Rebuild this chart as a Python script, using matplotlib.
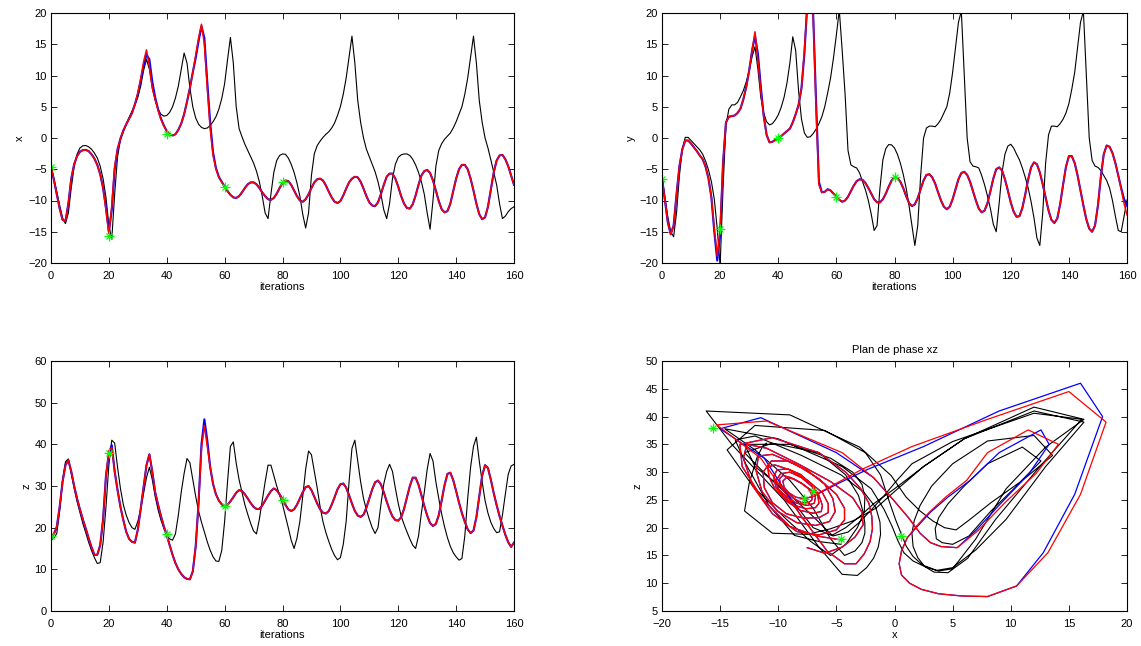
import numpy as np
import matplotlib
matplotlib.use("Agg")
import matplotlib.pyplot as plt

# --- data (one value per iteration, 0..160) ---
x_true = [-4.6, -6.5, -8.6, -10.8, -12.8, -13.7, -12.0, -8.0, -4.6, -2.6,
          -1.6, -1.25, -1.2, -1.4, -1.8, -2.4, -3.2, -4.5, -6.5, -9.5,
          -14.0, -16.2, -9.0, -3.0, -0.3, 1.0, 2.2, 3.3, 4.3, 5.3,
          6.5, 8.3, 10.8, 12.6, 11.0, 8.0, 6.0, 4.6, 3.8, 3.5,
          3.6, 4.1, 5.0, 6.4, 8.3, 11.0, 13.6, 12.0, 8.0, 5.0,
          3.2, 2.2, 1.7, 1.5, 1.6, 2.0, 2.6, 3.4, 4.6, 6.3,
          8.7, 12.5, 16.1, 12.0, 5.0, 1.5, 0.2, -1.0, -2.0, -3.0,
          -4.0, -5.3, -7.0, -9.3, -12.0, -12.9, -9.0, -5.5, -3.6, -2.8,
          -2.55, -2.6, -3.2, -4.2, -5.5, -7.2, -9.3, -12.2, -14.4, -12.0,
          -6.0, -2.5, -1.2, -0.5, 0.1, 0.6, 1.0, 1.6, 2.4, 3.6,
          5.0, 7.0, 9.6, 13.0, 16.3, 12.0, 6.0, 2.5, 0.0, -1.8,
          -3.0, -4.2, -5.4, -7.0, -9.0, -11.5, -12.9, -10.5, -6.5, -4.2,
          -3.1, -2.7, -2.55, -2.55, -2.8, -3.4, -4.3, -5.5, -7.0, -9.0,
          -12.0, -14.6, -10.0, -4.5, -2.0, -0.9, -0.2, 0.3, 0.8, 1.6,
          2.6, 3.8, 5.0, 7.0, 9.6, 13.0, 16.3, 12.0, 6.0, 2.5,
          0.0, -1.6, -3.5, -5.5, -7.5, -10.5, -12.9, -12.5, -11.8, -11.3,
          -11.0]

x_red = [-4.6, -6.7, -9.0, -11.3, -13.1, -13.3, -10.5, -6.5, -4.2, -2.9,
         -2.2, -1.95, -1.9, -2.1, -2.6, -3.3, -4.3, -5.8, -8.0, -11.5,
         -15.3, -11.0, -4.5, -1.8, -0.1, 1.2, 2.2, 3.1, 4.0, 5.4,
         7.2, 9.5, 12.2, 14.1, 11.5, 8.0, 6.2, 4.4, 3.0, 1.9,
         1.1, 0.6, 0.4, 0.6, 1.3, 2.3, 3.8, 5.8, 8.0, 10.5,
         13.2, 16.0, 18.2, 15.0, 8.0, 1.5, -2.8, -5.0, -6.3, -7.1,
         -7.8, -8.5, -9.1, -9.5, -9.6, -9.3, -8.7, -8.0, -7.4, -7.1,
         -7.1, -7.4, -8.0, -8.7, -9.3, -9.8, -9.9, -9.6, -8.9, -8.0,
         -7.2, -6.8, -6.9, -7.5, -8.4, -9.3, -10.0, -10.2, -9.8, -9.0,
         -8.0, -7.1, -6.6, -6.5, -6.8, -7.6, -8.6, -9.5, -10.2, -10.4,
         -10.1, -9.2, -8.1, -7.1, -6.5, -6.2, -6.3, -7.0, -8.1, -9.3,
         -10.3, -10.8, -10.9, -10.3, -9.0, -7.5, -6.2, -5.7, -5.7, -6.5,
         -7.8, -9.3, -10.5, -11.2, -11.3, -10.6, -9.2, -7.5, -6.0, -5.3,
         -5.1, -5.6, -6.8, -8.4, -10.1, -11.4, -11.9, -11.7, -10.5, -8.5,
         -6.5, -5.0, -4.3, -4.3, -5.0, -6.5, -8.4, -10.5, -12.2, -13.0,
         -12.7, -11.0, -8.3, -5.5, -3.6, -2.8, -2.7, -3.4, -4.5, -6.0,
         -7.5]

x_blue = [-4.6, -6.7, -9.0, -11.3, -13.1, -13.3, -10.5, -6.5, -4.2, -2.9,
          -2.2, -1.95, -1.9, -2.1, -2.6, -3.3, -4.3, -5.8, -8.0, -11.2,
          -15.0, -11.5, -5.0, -1.8, -0.1, 1.2, 2.2, 3.1, 4.0, 5.4,
          7.0, 9.2, 11.6, 13.3, 12.6, 9.0, 6.5, 4.6, 3.1, 2.0,
          1.1, 0.6, 0.4, 0.6, 1.3, 2.3, 3.8, 5.8, 8.0, 10.5,
          12.8, 15.5, 17.9, 16.0, 9.0, 2.5, -2.3, -4.8, -6.2, -7.0,
          -7.8, -8.5, -9.1, -9.5, -9.6, -9.3, -8.7, -8.0, -7.4, -7.1,
          -7.1, -7.4, -8.0, -8.7, -9.3, -9.8, -9.9, -9.6, -8.9, -8.0,
          -7.2, -6.8, -6.9, -7.5, -8.4, -9.3, -10.0, -10.2, -9.8, -9.0,
          -8.0, -7.1, -6.6, -6.5, -6.8, -7.6, -8.6, -9.5, -10.2, -10.4,
          -10.1, -9.2, -8.1, -7.1, -6.5, -6.2, -6.3, -7.0, -8.1, -9.3,
          -10.3, -10.8, -10.9, -10.3, -9.0, -7.5, -6.2, -5.7, -5.7, -6.5,
          -7.8, -9.3, -10.5, -11.2, -11.3, -10.6, -9.2, -7.5, -6.0, -5.3,
          -5.1, -5.6, -6.8, -8.4, -10.1, -11.4, -11.9, -11.7, -10.5, -8.5,
          -6.5, -5.0, -4.3, -4.3, -5.0, -6.5, -8.4, -10.5, -12.2, -13.0,
          -12.7, -11.0, -8.3, -5.5, -3.6, -2.8, -2.7, -3.4, -4.5, -6.0,
          -7.5]

y_true = [-6.2, -9.5, -12.6, -15.0, -15.8, -12.0, -6.0, -1.8, 0.1, 0.1,
          -0.4, -0.9, -1.4, -1.9, -2.6, -3.7, -5.1, -7.0, -9.8, -14.5,
          -20.5, -8.0, 2.0, 4.6, 5.3, 5.3, 5.7, 6.6, 7.6, 9.0,
          10.8, 13.0, 14.6, 11.0, 6.5, 4.0, 2.6, 2.1, 2.3, 2.9,
          3.7, 4.9, 6.5, 8.8, 12.0, 16.2, 14.0, 7.5, 3.0, 0.8,
          0.1, 0.2, 0.7, 1.4, 2.3, 3.4, 5.0, 7.2, 9.6, 12.8,
          16.5, 20.5, 14.0, 7.0, -2.0, -4.3, -4.6, -4.8, -5.6, -7.0,
          -8.3, -10.0, -12.2, -14.8, -14.0, -8.0, -3.5, -1.7, -1.05, -1.1,
          -1.6, -2.6, -4.0, -5.8, -8.0, -10.8, -14.0, -17.2, -14.0, -6.0,
          0.0, 1.6, 1.9, 1.9, 1.8, 2.3, 3.0, 4.0, 5.0, 7.2,
          10.5, 14.5, 18.5, 20.3, 10.0, 0.0, -3.8, -4.5, -4.6, -4.8,
          -6.0, -7.5, -9.3, -11.3, -13.8, -15.0, -10.5, -5.5, -2.6, -1.3,
          -1.0, -1.6, -2.6, -3.5, -4.8, -6.3, -8.0, -10.2, -12.8, -16.0,
          -17.2, -12.0, -4.0, 0.5, 1.9, 1.9, 1.8, 2.3, 3.0, 4.0,
          5.5, 7.8, 10.5, 14.5, 18.5, 20.3, 10.0, 0.0, -3.6, -4.5,
          -4.7, -5.2, -6.0, -6.8, -8.0, -10.0, -12.5, -14.8, -15.0, -12.5,
          -9.9]

y_red = [-6.4, -10.0, -13.5, -15.4, -14.0, -9.0, -4.5, -1.8, -0.4, -0.4,
         -0.9, -1.5, -2.1, -2.8, -3.4, -4.6, -6.5, -9.5, -14.5, -18.9,
         -14.6, -4.0, 2.5, 3.4, 3.5, 3.6, 4.0, 4.7, 6.2, 8.2,
         10.8, 14.0, 17.0, 12.5, 7.5, 3.5, 0.5, -0.7, -0.6, -0.3,
         0.0, 0.3, 0.7, 1.1, 1.5, 2.5, 3.8, 5.3, 8.0, 14.0,
         21.5, 23.0, 20.0, 5.0, -7.5, -8.7, -8.6, -8.2, -8.4, -8.9,
         -9.4, -9.9, -10.2, -10.0, -9.4, -8.5, -7.6, -6.9, -6.6, -6.7,
         -7.2, -8.0, -8.9, -9.8, -10.3, -10.3, -9.8, -8.9, -7.8, -6.8,
         -6.3, -6.4, -7.0, -8.0, -9.3, -10.4, -10.9, -10.6, -9.6, -8.2,
         -6.8, -5.9, -5.8, -6.3, -7.3, -8.7, -10.0, -11.0, -11.4, -11.0,
         -9.8, -8.2, -6.6, -5.6, -5.4, -5.9, -7.0, -8.5, -10.0, -11.3,
         -11.9, -11.6, -10.4, -8.5, -6.5, -5.0, -4.7, -5.2, -6.6, -8.4,
         -10.3, -11.8, -12.6, -12.5, -11.2, -9.0, -6.6, -4.7, -3.9, -4.2,
         -5.5, -7.4, -9.5, -11.6, -13.1, -13.6, -12.9, -10.6, -7.5, -4.6,
         -2.9, -2.9, -4.0, -6.0, -8.4, -10.8, -13.0, -14.5, -15.0, -14.0,
         -10.8, -6.2, -2.6, -1.2, -1.4, -2.4, -4.0, -6.0, -8.2, -10.5,
         -12.3]

y_blue = [-6.4, -10.0, -13.5, -15.4, -14.0, -9.0, -4.5, -1.8, -0.4, -0.4,
          -0.9, -1.5, -2.1, -2.8, -3.4, -4.6, -6.5, -9.5, -15.0, -19.6,
          -15.5, -4.0, 2.5, 3.4, 3.5, 3.6, 4.0, 4.7, 6.2, 8.2,
          10.8, 14.0, 16.3, 13.5, 8.2, 3.5, 0.5, -0.7, -0.6, -0.3,
          0.0, 0.3, 0.7, 1.1, 1.5, 2.5, 3.8, 5.3, 8.0, 13.5,
          21.5, 23.0, 20.0, 6.0, -7.0, -8.7, -8.6, -8.2, -8.4, -8.9,
          -9.4, -9.9, -10.2, -10.0, -9.4, -8.5, -7.6, -6.9, -6.6, -6.7,
          -7.2, -8.0, -8.9, -9.8, -10.3, -10.3, -9.8, -8.9, -7.8, -6.8,
          -6.3, -6.4, -7.0, -8.0, -9.3, -10.4, -10.9, -10.6, -9.6, -8.2,
          -6.8, -5.9, -5.8, -6.3, -7.3, -8.7, -10.0, -11.0, -11.4, -11.0,
          -9.8, -8.2, -6.6, -5.6, -5.4, -5.9, -7.0, -8.5, -10.0, -11.3,
          -11.9, -11.6, -10.4, -8.5, -6.5, -5.0, -4.7, -5.2, -6.6, -8.4,
          -10.3, -11.8, -12.6, -12.5, -11.2, -9.0, -6.6, -4.7, -3.9, -4.2,
          -5.5, -7.4, -9.5, -11.6, -13.1, -13.6, -12.9, -10.6, -7.5, -4.6,
          -2.9, -2.9, -4.0, -6.0, -8.4, -10.8, -13.0, -14.5, -15.0, -14.0,
          -10.8, -6.2, -2.6, -1.2, -1.4, -2.4, -4.0, -6.0, -8.0, -9.8,
          -10.8]

z_true = [17.0, 17.5, 18.6, 24.0, 31.5, 35.8, 36.5, 33.0, 29.5, 26.3,
          23.6, 21.0, 18.8, 16.5, 14.5, 12.8, 11.4, 11.6, 16.5, 25.0,
          35.0, 41.0, 40.3, 34.5, 29.4, 25.5, 23.0, 21.2, 20.0, 19.6,
          21.5, 24.5, 28.2, 32.0, 34.5, 31.5, 27.5, 24.3, 21.8, 19.8,
          18.0, 17.3, 17.0, 18.5, 23.0, 28.5, 33.0, 36.6, 35.6, 31.5,
          27.5, 24.0, 21.3, 19.0, 16.6, 14.6, 13.0, 12.0, 11.9, 14.5,
          21.5, 31.0, 39.5, 40.6, 35.5, 31.5, 28.5, 25.5, 23.2, 21.0,
          19.2, 18.5, 22.0, 26.5, 31.0, 35.0, 35.0, 32.5, 30.0, 27.8,
          25.6, 22.8, 20.0, 17.0, 15.0, 17.5, 21.5, 27.5, 34.0, 38.4,
          37.5, 33.5, 29.5, 25.0, 21.4, 18.8, 16.7, 14.8, 13.3, 12.3,
          12.8, 16.0, 21.5, 31.0, 39.0, 41.0, 36.0, 31.0, 27.0, 24.3,
          22.0, 20.0, 18.6, 20.0, 25.5, 30.5, 33.5, 35.2, 33.5, 29.5,
          25.8, 22.8, 20.8, 19.0, 17.3, 15.8, 15.0, 18.0, 23.5, 28.5,
          34.0, 37.8, 36.0, 31.0, 27.0, 23.3, 20.2, 17.6, 15.5, 14.0,
          13.0, 12.2, 12.6, 18.0, 27.0, 34.5, 39.5, 41.7, 36.0, 31.0,
          26.5, 23.5, 21.3, 19.8, 18.8, 19.0, 23.0, 28.0, 32.8, 34.8,
          35.2]

z_red = [17.8, 18.5, 20.2, 25.0, 31.0, 35.0, 36.2, 33.5, 30.0, 27.0,
         24.4, 22.0, 19.8, 17.5, 15.3, 13.5, 13.5, 15.8, 22.0, 32.5,
         38.5, 39.2, 33.5, 29.0, 25.0, 21.8, 19.0, 17.3, 16.6, 16.4,
         19.5, 24.5, 29.8, 35.0, 37.6, 33.5, 28.5, 25.5, 22.8, 20.3,
         18.2, 15.8, 13.5, 11.5, 10.0, 8.9, 8.1, 7.7, 7.6, 9.5,
         15.5, 26.0, 39.0, 44.5, 39.5, 34.6, 30.5, 28.0, 26.5, 25.6,
         25.2, 25.5, 26.3, 27.3, 28.4, 29.0, 28.8, 28.0, 27.0, 25.9,
         25.0, 24.5, 24.5, 25.3, 26.5, 27.7, 28.8, 29.4, 29.0, 28.0,
         26.8, 25.5, 24.4, 24.0, 24.4, 25.5, 27.0, 28.5, 29.7, 30.0,
         29.0, 27.4, 25.8, 24.4, 23.6, 23.4, 24.0, 25.5, 27.3, 29.2,
         30.4, 30.6, 29.6, 27.8, 25.8, 24.0, 22.9, 22.6, 23.1, 24.8,
         27.0, 29.2, 30.9, 31.3, 30.4, 28.5, 26.3, 24.3, 22.7, 21.8,
         21.7, 22.5, 24.5, 27.2, 30.0, 32.0, 32.0, 30.3, 27.8, 25.2,
         22.9, 21.1, 20.4, 20.9, 23.0, 26.5, 30.2, 32.9, 33.2, 31.4,
         28.8, 26.0, 23.5, 21.4, 19.6, 18.7, 19.3, 22.5, 27.5, 32.5,
         35.0, 34.3, 31.5, 28.3, 25.4, 22.8, 20.5, 18.3, 16.5, 15.4,
         16.4]

z_blue = [17.8, 18.5, 20.2, 25.0, 31.0, 35.0, 36.2, 33.5, 30.0, 27.0,
          24.4, 22.0, 19.8, 17.5, 15.3, 13.5, 13.5, 15.8, 22.0, 32.5,
          37.8, 39.8, 33.5, 29.0, 25.0, 21.8, 19.0, 17.3, 16.6, 16.4,
          19.5, 24.5, 29.8, 35.0, 37.6, 33.5, 28.5, 25.5, 22.8, 20.3,
          18.2, 15.8, 13.5, 11.5, 10.0, 8.9, 8.1, 7.7, 7.6, 9.5,
          15.5, 26.0, 40.0, 46.0, 41.0, 34.6, 30.5, 28.0, 26.5, 25.6,
          25.2, 25.5, 26.3, 27.3, 28.4, 29.0, 28.8, 28.0, 27.0, 25.9,
          25.0, 24.5, 24.5, 25.3, 26.5, 27.7, 28.8, 29.4, 29.0, 28.0,
          26.8, 25.5, 24.4, 24.0, 24.4, 25.5, 27.0, 28.5, 29.7, 30.0,
          29.0, 27.4, 25.8, 24.4, 23.6, 23.4, 24.0, 25.5, 27.3, 29.2,
          30.4, 30.6, 29.6, 27.8, 25.8, 24.0, 22.9, 22.6, 23.1, 24.8,
          27.0, 29.2, 30.9, 31.3, 30.4, 28.5, 26.3, 24.3, 22.7, 21.8,
          21.7, 22.5, 24.5, 27.2, 30.0, 32.0, 32.0, 30.3, 27.8, 25.2,
          22.9, 21.1, 20.4, 20.9, 23.0, 26.5, 30.2, 32.9, 33.2, 31.4,
          28.8, 26.0, 23.5, 21.4, 19.6, 18.7, 19.3, 22.5, 27.5, 32.5,
          35.0, 34.3, 31.5, 28.3, 25.4, 22.8, 20.5, 18.3, 16.5, 15.4,
          16.4]

# observations (green stars)
obs_t = [0, 20, 40, 60, 80]
obs_x = [-4.6, -15.6, 0.6, -7.8, -7.0]
obs_y = [-6.5, -14.6, 0.0, -9.4, -6.2]
obs_z = [18.0, 38.0, 18.5, 25.2, 26.6]

iters = np.arange(len(x_true))

plt.rcParams['font.family'] = ['Liberation Sans', 'DejaVu Sans']
plt.rcParams['font.size'] = 8

fig = plt.figure(figsize=(11.41, 6.46), dpi=100)

W, H = 1141.0, 646.0
def box(l, t, r, b):
    return [l / W, 1 - b / H, (r - l) / W, (b - t) / H]

def style(ax):
    ax.tick_params(direction='in', top=True, right=True, length=4, width=0.6)
    ax.tick_params(axis='x', pad=5.5)
    ax.tick_params(axis='y', pad=3)
    for s in ax.spines.values():
        s.set_linewidth(0.8)

def stars(ax, xs, ys):
    # matlab style asterisk = plus + cross
    green = (0, 1, 0)
    ax.plot(xs, ys, '+', color=green, ms=6.5, mew=0.9)
    ax.plot(xs, ys, 'x', color=green, ms=5, mew=0.9)

def series(ax, true, blue, red, obs):
    ax.plot(iters, true, color='k', lw=0.8)
    ax.plot(iters, blue, color='b', lw=1.5)
    ax.plot(iters, red, color='r', lw=1.1)
    stars(ax, obs_t, obs)
    ax.set_xlim(0, 160)
    ax.set_xticks(range(0, 161, 20))
    ax.set_xlabel('iterations', labelpad=1)
    style(ax)

ax1 = fig.add_axes(box(51, 13, 514, 263))
series(ax1, x_true, x_blue, x_red, obs_x)
ax1.set_ylim(-20, 20)
ax1.set_yticks(range(-20, 21, 5))
ax1.set_ylabel('x', labelpad=2)

ax2 = fig.add_axes(box(662, 13, 1127, 263))
series(ax2, y_true, y_blue, y_red, obs_y)
ax2.set_ylim(-20, 20)
ax2.set_yticks(range(-20, 21, 5))
ax2.set_ylabel('y', labelpad=2)

ax3 = fig.add_axes(box(51, 361, 514, 611))
series(ax3, z_true, z_blue, z_red, obs_z)
ax3.set_ylim(0, 60)
ax3.set_yticks(range(0, 61, 10))
ax3.set_ylabel('z', labelpad=2)

ax4 = fig.add_axes(box(662, 361, 1127, 611))
ax4.plot(x_true, z_true, color='k', lw=0.8)
ax4.plot(x_blue, z_blue, color='b', lw=0.9)
ax4.plot(x_red, z_red, color='r', lw=0.9)
stars(ax4, obs_x, obs_z)
ax4.set_xlim(-20, 20)
ax4.set_ylim(5, 50)
ax4.set_xticks(range(-20, 21, 5))
ax4.set_yticks(range(5, 51, 5))
ax4.set_xlabel('x', labelpad=1)
ax4.set_ylabel('z', labelpad=2)
ax4.set_title('Plan de phase xz', fontsize=8, pad=6)
style(ax4)

fig.savefig('out.png', dpi=100)
